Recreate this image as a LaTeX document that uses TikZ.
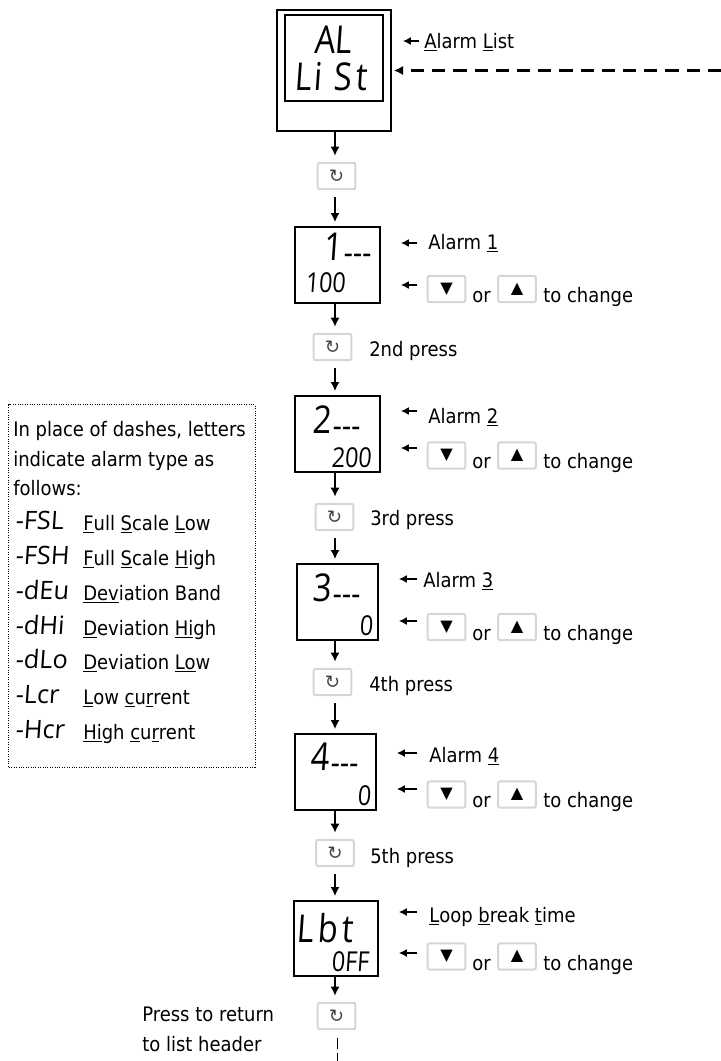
\documentclass[tikz,border=0pt]{standalone}
\usepackage{fontspec}
\setmainfont[FakeStretch=0.9]{DejaVu Sans}
\newfontfamily\lcdface[FakeSlant=0.07,FakeStretch=0.85]{Open Sans}
\newfontfamily\lcdwide[FakeSlant=0.07]{Open Sans}
\newfontfamily\symface{DejaVu Sans}
\newcommand{\lcdb}{\lcdface\fontsize{27.3}{28}\selectfont}
\newcommand{\lcds}{\lcdface\fontsize{19.5}{20}\selectfont}
\newcommand{\lcdk}{\lcdwide\fontsize{18}{19}\selectfont}
\newcommand{\lcddash}{\raisebox{-0.1cm}{\lcdface\fontsize{24}{25}\selectfont ---}}
\usetikzlibrary{arrows.meta,positioning,calc}
\definecolor{KeyEdge}{HTML}{D6D6D6}
\definecolor{KeyIcon}{HTML}{444444}
\tikzset{
  lcdbox/.style={draw,line width=0.04cm,fill=white,inner sep=0pt},
  keybox/.style={draw=KeyEdge,line width=0.05cm,rounded corners=0.05cm,fill=white,
    minimum width=0.94cm,minimum height=0.66cm,inner sep=0pt},
  words/.style={anchor=base west,inner sep=0pt,font=\fontsize{14.2}{16}\selectfont},
  lcdtext/.style={anchor=base west,inner sep=0pt},
  flow/.style={-{Latex[length=0.23cm,width=0.23cm]},line width=0.05cm},
  pointer/.style={-{Latex[length=0.2cm,width=0.2cm]},line width=0.045cm},
}
\begin{document}
\begin{tikzpicture}[x=0.025cm,y=-0.025cm]
    \useasboundingbox (0,0) rectangle (721,1061);
    \coordinate (spine) at (335,0);
    % list header
    \node[lcdbox,minimum width=2.85cm,minimum height=3.025cm] (topbox) at (334,70.5) {};
    \node[lcdbox,minimum width=2.45cm,minimum height=2.15cm] (topface) at (334,58) {};
    \node[lcdtext,font=\lcdb] (topa) at (314,53) {AL};
    \node[lcdtext,font=\lcdb] (topb) at (294,90) {L\kern0.05cm i\kern0.3cm S\kern0.1cm t};
    \node[words] (toplabel) at (424,48) {\underline{A}larm \underline{L}ist};
    \coordinate (toparrow) at (419,41);
    \draw[pointer,shorten >=0.275cm] (toparrow) -- (topbox.east |- toparrow);
    % the five parameters
    \foreach \n/\cx/\w/\cy/\h/\ya/\lx/\lb/\txt/\yb/\kc/\kb in {
      1/337.5/85/265/76/243/428/249/Alarm \underline{1}/285/289/302,
      2/337.5/85/434/76/411/428/423/Alarm \underline{2}/448/455.5/468,
      3/337.5/81/602/76/579/423/587/Alarm \underline{3}/621/627/640,
      4/335.5/81/772/76/753/429/762/Alarm \underline{4}/789/794.5/807,
      5/336/84/938.5/75/912/429/922/\underline{L}oop \underline{b}reak \underline{t}ime/953/956.5/970}{
      \node[lcdbox,minimum width=\w*0.025cm,minimum height=\h*0.025cm] (box\n) at (\cx,\cy) {};
      \node[words] (name\n) at (\lx,\lb) {\txt};
      \coordinate (namearrow\n) at (417,\ya);
      \coordinate (keyarrow\n) at (417,\yb);
      \draw[pointer,shorten >=0.5cm] (namearrow\n) -- (box\n.east |- namearrow\n);
      \draw[pointer,shorten >=0.5cm] (keyarrow\n) -- (box\n.east |- keyarrow\n);
      \node[keybox,font=\symface\fontsize{11.5}{12}\selectfont] (down\n) at (446.5,\kc) {▼};
      \node[keybox,font=\symface\fontsize{11.5}{12}\selectfont] (up\n) at (517,\kc) {▲};
      \node[words] (or\n) at (472,\kb) {or};
      \node[words] (change\n) at (543,\kb) {to change};
    }
    % readouts
    \node[lcdtext,font=\lcdb] (top1) at (323,260) {1\kern0.03cm\lcddash};
    \node[lcdtext,font=\lcds] (val1) at (305,292) {100};
    \node[lcdtext,font=\lcdb] (top2) at (312,433) {2\kern0.03cm\lcddash};
    \node[lcdtext,font=\lcds] (val2) at (331,467) {200};
    \node[lcdtext,font=\lcdb] (top3) at (312,601) {3\kern0.03cm\lcddash};
    \node[lcdtext,font=\lcds] (val3) at (359,635) {0};
    \node[lcdtext,font=\lcdb] (top4) at (310,770) {4\kern0.03cm\lcddash};
    \node[lcdtext,font=\lcds] (val4) at (357,805) {0};
    \node[lcdtext,font=\lcdb] (top5) at (296,942) {L\kern0.1cm b\kern0.1cm t};
    \node[lcdtext,font=\lcds] (val5) at (331,971) {0FF};
    % scroll keys
    \foreach \n/\kx/\ky in {0/336.5/176,1/332.5/347,2/334.5/517,3/332.5/682,4/335/853,5/336.5/1016}{
      \node[keybox,text=KeyIcon,font=\symface\fontsize{13}{14}\selectfont] (key\n) at (\kx,\ky) {↻};
    }
    \node[words] (press1) at (369,356) {2nd press};
    \node[words] (press2) at (370,525) {3rd press};
    \node[words] (press3) at (369,691) {4th press};
    \node[words] (press4) at (370,863) {5th press};
    \node[words] (back1) at (142,1021) {Press to return};
    \node[words] (back2) at (142,1051) {to list header};
    % down the page
    \foreach \a/\b in {topbox/key0,box1/key1,box2/key2,box3/key3,box4/key4,box5/key5}{
      \draw[flow,shorten >=0.15cm] (\a.south -| spine) -- (\b.north -| spine);
    }
    \foreach \a/\b in {key0/box1,key1/box2,key2/box3,key3/box4,key4/box5}{
      \draw[flow,shorten <=0.175cm,shorten >=0.1cm] (\a.south -| spine) -- (\b.north -| spine);
    }
    % return path
    \coordinate (loopin) at (721,70.5);
    \coordinate (loopout) at (337,1061);
    \draw[flow,dash pattern=on 0.33cm off 0.2cm,line width=0.06cm,shorten >=0.05cm] (loopin) -- (topbox.east);
    \draw[line width=0.025cm,dash pattern=on 0.28cm off 0.09cm,shorten <=0.2cm] (key5.south -| loopout) -- (loopout);
    % legend
    \node[draw,densely dotted,line width=0.025cm,minimum width=6.15cm,minimum height=9.05cm] (legend) at (132,586) {};
    \node[words] (intro1) at (13,436) {In place of dashes, letters};
    \node[words] (intro2) at (13,466) {indicate alarm type as};
    \node[words] (intro3) at (13,495) {follows:};
    \foreach \n/\code/\yy/\txt in {
      1/-FSL/530/\underline{F}ull \underline{S}cale \underline{L}ow,
      2/-FSH/565/\underline{F}ull \underline{S}cale \underline{H}igh,
      3/-dEu/600/\underline{Dev}iation Band,
      4/-dHi/635/\underline{D}eviation \underline{Hi}gh,
      5/-dLo/669/\underline{D}eviation \underline{Lo}w,
      6/-Lcr/704/\underline{L}ow \underline{c}u\underline{r}rent,
      7/-Hcr/739/\underline{Hi}gh \underline{c}u\underline{r}rent}{
      \node[lcdtext,font=\lcdk] (code\n) at (15,\yy-1) {\code};
      \node[words] (kind\n) at (83,\yy) {\txt};
    }
  \end{tikzpicture}
\end{document}
